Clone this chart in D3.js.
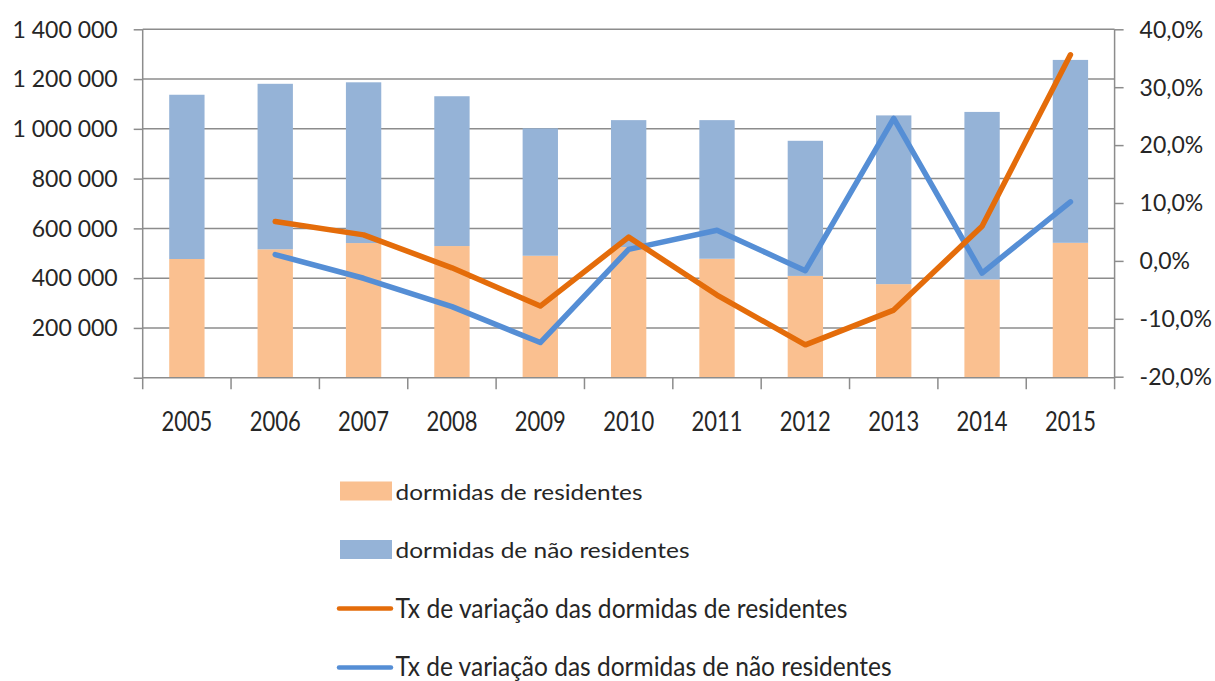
<!DOCTYPE html>
<html>
<head>
<meta charset="utf-8">
<script src="https://cdn.jsdelivr.net/npm/d3@7"></script>
<style>
  html, body { margin: 0; padding: 0; background: #fff; }
  svg { display: block; }
  text { font-family: Lato, "Open Sans", "Liberation Sans", sans-serif; fill: #262626; }
</style>
</head>
<body>
<svg id="chart" width="1215" height="681"></svg>
<script>
const years = ["2005","2006","2007","2008","2009","2010","2011","2012","2013","2014","2015"];
const residentes = [477000, 516000, 541000, 529000, 490000, 525000, 478000, 409000, 376000, 395000, 542000];
const naoResidentes = [660000, 665000, 646000, 602000, 512000, 510000, 557000, 543000, 678000, 673000, 735000];
const taxaYears = ["2006","2007","2008","2009","2010","2011","2012","2013","2014","2015"];
const taxaResidentes = [6.8, 4.5, -1.2, -7.8, 4.1, -5.9, -14.5, -8.5, 6.0, 35.6];
const taxaNaoResidentes = [1.1, -3.0, -7.9, -14.1, 2.0, 5.3, -1.7, 24.6, -2.1, 10.2];
const leftTicks = [0, 200000, 400000, 600000, 800000, 1000000, 1200000, 1400000];
const rightTicks = [-20, -10, 0, 10, 20, 30, 40];
const legendLabels = ["dormidas de residentes", "dormidas de não residentes",
  "Tx de variação das dormidas de residentes", "Tx de variação das dormidas de não residentes"];

const colors = { res: "#FAC090", nres: "#95B3D7", lres: "#E46C0A", lnres: "#558ED5", grid: "#8c8c8c" };

const svg = d3.select("#chart");
const pLeft = 142.7, pRight = 1114.6, pTop = 29.3, pBottom = 377.7;

const x = d3.scaleBand().domain(years).range([pLeft, pRight]).paddingInner(0.6).paddingOuter(0.3);
const yL = d3.scaleLinear().domain([0, 1400000]).range([pBottom, pTop]);
const yR = d3.scaleLinear().domain([-20, 40]).range([pBottom - 1, pTop]);

// gridlines
svg.append("g").selectAll("line").data(leftTicks.filter(d => d > 0)).join("line")
  .attr("x1", pLeft).attr("x2", pRight)
  .attr("y1", d => yL(d)).attr("y2", d => yL(d))
  .attr("stroke", colors.grid).attr("stroke-width", 1.5);

// stacked bars
const stackData = years.map((y, i) => ({ year: y, res: residentes[i], nres: naoResidentes[i] }));
const stack = d3.stack().keys(["res", "nres"])(stackData);
svg.append("g").selectAll("g").data(stack).join("g")
  .attr("fill", d => colors[d.key])
  .selectAll("rect").data(d => d).join("rect")
  .attr("x", d => x(d.data.year))
  .attr("width", x.bandwidth())
  .attr("y", d => yL(d[1]))
  .attr("height", d => yL(d[0]) - yL(d[1]));

// left axis
const fmtL = d => d === 0 ? "" : d3.format(",")(d).replace(/,/g, " ");
const gL = svg.append("g").attr("transform", `translate(${pLeft},0)`)
  .call(d3.axisLeft(yL).tickValues(leftTicks).tickSize(9).tickSizeOuter(0).tickPadding(16).tickFormat(fmtL));
gL.select(".domain").remove();
gL.append("line").attr("x1", 0).attr("x2", 0).attr("y1", pTop).attr("y2", pBottom + 11.5)
  .attr("stroke", colors.grid).attr("stroke-width", 1.5);
gL.selectAll(".tick line").attr("stroke", colors.grid).attr("stroke-width", 1.5);
gL.selectAll(".tick text").style("font-size", "23px").attr("dy", "0.34em").attr("fill", "#262626");

// right axis
const fmtR = d => d3.format(".1f")(d).replace("\u2212", "-").replace(".", ",") + "%";
const gR = svg.append("g").attr("transform", `translate(${pRight},0)`)
  .call(d3.axisRight(yR).tickValues(rightTicks).tickSize(9).tickSizeOuter(0).tickPadding(16).tickFormat(fmtR));
gR.select(".domain").remove();
gR.append("line").attr("x1", 0).attr("x2", 0).attr("y1", pTop).attr("y2", pBottom + 11.5)
  .attr("stroke", colors.grid).attr("stroke-width", 1.5);
gR.selectAll(".tick line").attr("stroke", colors.grid).attr("stroke-width", 1.5);
gR.selectAll(".tick text").style("font-size", "23px").attr("dy", "0.34em").attr("fill", "#262626");

// bottom axis
svg.append("line").attr("x1", pLeft).attr("x2", pRight).attr("y1", pBottom).attr("y2", pBottom)
  .attr("stroke", colors.grid).attr("stroke-width", 1.5);
svg.append("g").selectAll("line").data(years.slice(1)).join("line")
  .attr("x1", d => x(d) - (x.step() - x.bandwidth()) / 2)
  .attr("x2", d => x(d) - (x.step() - x.bandwidth()) / 2)
  .attr("y1", pBottom).attr("y2", pBottom + 11.5)
  .attr("stroke", colors.grid).attr("stroke-width", 1.5);
svg.append("g").selectAll("text").data(years).join("text")
  .attr("x", d => x(d) + x.bandwidth() / 2)
  .attr("y", 431)
  .attr("text-anchor", "middle")
  .style("font-size", "27px")
  .attr("textLength", 51).attr("lengthAdjust", "spacingAndGlyphs")
  .text(d => d);

// lines
const line = d3.line().x(d => x(d.year) + x.bandwidth() / 2).y(d => yR(d.v));
const lres = taxaYears.map((y, i) => ({ year: y, v: taxaResidentes[i] }));
const lnres = taxaYears.map((y, i) => ({ year: y, v: taxaNaoResidentes[i] }));
svg.append("path").datum(lnres).attr("d", line).attr("fill", "none")
  .attr("stroke", colors.lnres).attr("stroke-width", 5.5).attr("stroke-linejoin", "round").attr("stroke-linecap", "round");
svg.append("path").datum(lres).attr("d", line).attr("fill", "none")
  .attr("stroke", colors.lres).attr("stroke-width", 5.5).attr("stroke-linejoin", "round").attr("stroke-linecap", "round");

// legend
const legend = [
  { type: "rect", color: colors.res, label: legendLabels[0], base: 499.5, size: 22, len: 247, cy: 491 },
  { type: "rect", color: colors.nres, label: legendLabels[1], base: 558, size: 22, len: 294, cy: 549.5 },
  { type: "line", color: colors.lres, label: legendLabels[2], base: 618, size: 27, len: 452, cy: 608.5 },
  { type: "line", color: colors.lnres, label: legendLabels[3], base: 675.5, size: 26, len: 496, cy: 667.5 }
];
const lg = svg.append("g");
legend.forEach(d => {
  if (d.type === "rect") {
    lg.append("rect").attr("x", 340).attr("y", d.cy - 9.5).attr("width", 52).attr("height", 19).attr("fill", d.color);
  } else {
    lg.append("line").attr("x1", 339).attr("x2", 391).attr("y1", d.cy).attr("y2", d.cy)
      .attr("stroke", d.color).attr("stroke-width", 4.5).attr("stroke-linecap", "round");
  }
  lg.append("text").attr("x", 395.5).attr("y", d.base).style("font-size", d.size + "px")
    .attr("textLength", d.len).attr("lengthAdjust", "spacingAndGlyphs").text(d.label);
});
</script>
</body>
</html>
